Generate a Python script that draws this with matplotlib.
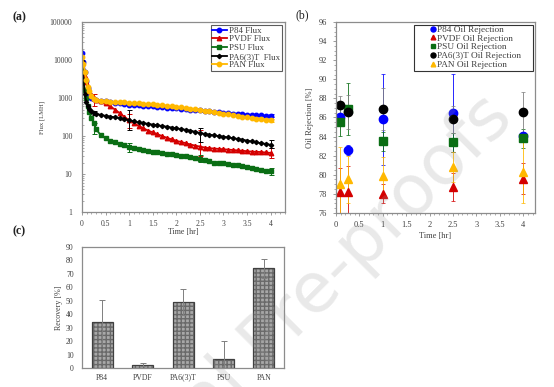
import numpy as np
import matplotlib.pyplot as plt
from matplotlib.patches import Rectangle
from matplotlib.ticker import MultipleLocator, LogLocator, NullFormatter

plt.rcParams['font.family'] = ['Liberation Serif', 'DejaVu Serif']

text_col = '#404040'
spine_col = '#8c8c8c'

c_p84 = '#0000ff'
c_pvdf = '#d40000'
c_psu = '#0a6e14'
c_pa6 = '#000000'
c_pan = '#ffb800'

# ---- (a) flux vs time ----
time_hr = [0.0, 0.03, 0.06, 0.09, 0.12, 0.15, 0.2, 0.25, 0.3, 0.4,
           0.5, 0.6, 0.7, 0.8, 0.9, 1.0, 1.1, 1.2, 1.3, 1.4,
           1.5, 1.6, 1.7, 1.8, 1.9, 2.0, 2.1, 2.2, 2.3, 2.4,
           2.5, 2.6, 2.7, 2.8, 2.9, 3.0, 3.1, 3.2, 3.3, 3.4,
           3.5, 3.6, 3.7, 3.8, 3.9, 4.0]
flux_p84 = [15000, 9000, 5000, 2800, 1800, 1300, 1000, 920, 880, 850,
            820, 790, 760, 730, 700, 670, 655, 640, 628, 615,
            600, 588, 575, 562, 548, 535, 522, 510, 498, 485,
            472, 460, 448, 436, 424, 412, 402, 392, 384, 376,
            368, 362, 356, 351, 347, 343]
flux_pvdf = [8000, 5500, 3800, 2600, 1900, 1500, 1200, 1000, 900, 820,
             720, 600, 500, 400, 320, 260, 220, 185, 160, 140,
             125, 112, 100, 90, 82, 75, 70, 65, 60, 56,
             53, 50, 48, 47, 46, 45, 44, 43, 42, 41,
             40, 39, 38.5, 38, 37, 36]
flux_psu = [5600, 3000, 1600, 1000, 620, 420, 300, 225, 150, 105,
            88, 76, 68, 62, 57, 53, 50, 46, 43, 41,
            39, 37.5, 36, 34.5, 33, 32, 30.5, 29, 28, 27,
            25.5, 24, 21.5, 20, 19.5, 19, 18, 17.5, 17, 16.5,
            15.5, 14.5, 13.5, 12.8, 12.2, 11.8]
flux_pa6 = [9300, 3000, 1300, 800, 620, 520, 450, 410, 385, 360,
            340, 325, 310, 295, 280, 262, 245, 228, 218, 210,
            200, 192, 184, 176, 168, 160, 153, 146, 138, 130,
            120, 114, 109, 104, 100, 96, 92, 88, 84, 80,
            76, 72, 68, 65, 62, 59]
flux_pan = [12000, 8000, 5000, 3000, 2000, 1500, 1150, 970, 900, 840,
            820, 800, 790, 775, 765, 750, 735, 720, 705, 695,
            680, 665, 650, 630, 610, 590, 570, 550, 530, 510,
            490, 470, 450, 430, 410, 390, 372, 356, 340, 325,
            310, 300, 289, 278, 268, 258]

err_t = [0.25, 1.0, 2.5, 4.0]
err_p84 = ([60, 60, 40, 25], [60, 60, 40, 30])
err_pvdf = ([400, 100, 24, 9], [300, 120, 90, 12])
err_psu = ([115, 15, 5, 2.5], [0, 13, 6, 2.5])
err_pa6 = ([60, 120, 50, 10], [60, 230, 45, 20])
err_pan = ([60, 60, 40, 20], [60, 60, 40, 20])

# ---- (b) oil rejection ----
rej_t = [0.083, 0.25, 1.0, 2.5, 4.0]
rej_p84 = [86.1, 82.6, 85.8, 86.5, 84.1]
rej_pvdf = [78.2, 78.2, 78.0, 78.7, 79.6]
rej_psu = [85.5, 86.9, 83.5, 83.4, 83.8]
rej_pa6 = [87.3, 86.6, 86.9, 85.8, 86.6]
rej_pan = [79.0, 79.5, 79.9, 80.8, 80.3]
rej_err_p84 = [1.0, 0.5, 4.8, 4.1, 0.3]
rej_err_pvdf = [2.5, 2.7, 1.0, 1.5, 1.6]
rej_err_psu = [1.4, 2.7, 1.0, 1.0, 1.0]
rej_err_pa6 = [1.0, 1.8, 2.2, 1.4, 2.1]
rej_err_pan = [3.9, 2.5, 2.0, 1.6, 3.3]

# ---- (c) recovery ----
membranes = ['P84', 'PVDF', 'PA6(3)T', 'PSU', 'PAN']
recovery = [34, 2.5, 49, 7, 74]
recovery_err = [16.5, 1.0, 9.5, 13, 7]


def style_axes(ax, fs=5.5):
	for s in ax.spines.values():
		s.set_color(spine_col)
		s.set_linewidth(0.9)
	ax.tick_params(labelsize=fs, colors=spine_col, labelcolor=text_col, width=0.6, length=2.5)
	ax.tick_params(which='minor', colors=spine_col, width=0.5, length=1.5)


fig = plt.figure(figsize=(5.54, 3.87), dpi=100)
ax_a = fig.add_axes([0.148, 0.452, 0.366, 0.491])
ax_b = fig.add_axes([0.6065, 0.450, 0.359, 0.493])
ax_c = fig.add_axes([0.148, 0.049, 0.365, 0.313])

# (a)
series_a = [
	(flux_p84, err_p84, c_p84, 'o', 3.2, 'P84 Flux'),
	(flux_pvdf, err_pvdf, c_pvdf, '^', 3.2, 'PVDF Flux'),
	(flux_psu, err_psu, c_psu, 's', 3.0, 'PSU Flux'),
	(flux_pa6, err_pa6, c_pa6, 'D', 2.2, 'PA6(3)T  Flux'),
	(flux_pan, err_pan, c_pan, 'o', 3.2, 'PAN Flux'),
]
for flux, err, col, mk, ms, lab in series_a:
	ax_a.plot(time_hr, flux, color=col, marker=mk, ms=ms, lw=1.3, label=lab)
	ey = [flux[time_hr.index(t)] for t in err_t]
	ax_a.errorbar(err_t, ey, yerr=err, fmt='none', ecolor=col, elinewidth=0.7, capsize=1.8, capthick=0.7)

ax_a.set_yscale('log')
ax_a.set_ylim(1, 100000)
ax_a.set_xlim(0, 4.3)
ax_a.set_yticks([1, 10, 100, 1000, 10000, 100000])
ax_a.set_yticklabels(['1', '10', '100', '1000', '10000', '100000'])
ax_a.yaxis.set_minor_locator(LogLocator(base=10, subs=np.arange(2, 10)))
ax_a.yaxis.set_minor_formatter(NullFormatter())
ax_a.set_xticks([0, 0.5, 1, 1.5, 2, 2.5, 3, 3.5, 4])
ax_a.set_xticklabels(['0', '0.5', '1', '1.5', '2', '2.5', '3', '3.5', '4'])
ax_a.xaxis.set_minor_locator(MultipleLocator(0.1))
style_axes(ax_a)
ax_a.tick_params(axis='y', which='both', direction='in')
ax_a.tick_params(axis='y', pad=7)
ax_a.set_xlabel('Time [hr]', fontsize=5.8, color=text_col, labelpad=0)
ax_a.set_ylabel('Flux [LMH]', fontsize=4.8, color=text_col, labelpad=3)
leg_a = ax_a.legend(loc='upper right', fontsize=6.4, frameon=True, fancybox=False, edgecolor='#333333',
                    handlelength=1.6, handletextpad=0.3, borderpad=0.2, labelspacing=0.05,
                    borderaxespad=0.3)
leg_a.get_frame().set_linewidth(0.8)
for t in leg_a.get_texts():
	t.set_color(text_col)

# (b)
series_b = [
	(rej_p84, rej_err_p84, c_p84, 'o', 6.0, 'P84 Oil Rejection'),
	(rej_pvdf, rej_err_pvdf, c_pvdf, '^', 5.6, 'PVDF Oil Rejection'),
	(rej_psu, rej_err_psu, c_psu, 's', 5.6, 'PSU Oil Rejection'),
	(rej_pa6, rej_err_pa6, c_pa6, 'o', 6.0, 'PA6(3)T Oil Rejection'),
	(rej_pan, rej_err_pan, c_pan, '^', 5.6, 'PAN Oil Rejection'),
]
for vals, err, col, mk, ms, lab in series_b:
	ecol = '#7f7f7f' if col == c_pa6 else col
	ax_b.errorbar(rej_t, vals, yerr=err, fmt='none', ecolor=ecol, elinewidth=0.7, capsize=1.5, capthick=0.6, alpha=0.85)
for vals, err, col, mk, ms, lab in series_b:
	ax_b.plot(rej_t, vals, ls='none', color=col, marker=mk, ms=ms, label=lab)

ax_b.set_ylim(76, 96)
ax_b.set_xlim(0, 4.25)
ax_b.set_yticks(np.arange(76, 97, 2))
ax_b.yaxis.set_minor_locator(MultipleLocator(0.5))
ax_b.set_xticks([0, 0.5, 1, 1.5, 2, 2.5, 3, 3.5, 4])
ax_b.set_xticklabels(['0', '0.5', '1', '1.5', '2', '2.5', '3', '3.5', '4'])
ax_b.xaxis.set_minor_locator(MultipleLocator(0.1))
style_axes(ax_b, fs=6)
ax_b.tick_params(axis='y', pad=4)
ax_b.set_xlabel('Time [hr]', fontsize=6, color=text_col, labelpad=2)
ax_b.set_ylabel('Oil Rejection [%]', fontsize=6, color=text_col, labelpad=3)
# legend frame drawn separately (wider than the entries, as in the source)
ax_b.add_patch(Rectangle((0.392, 0.742), 0.598, 0.242, transform=ax_b.transAxes, fill=False,
                         edgecolor='#333333', lw=0.8, zorder=5))
leg_b = ax_b.legend(loc='upper left', bbox_to_anchor=(0.462, 0.992), fontsize=6.7, frameon=False,
                    handlelength=0.6, handletextpad=0.15, borderpad=0.2, labelspacing=0.02,
                    borderaxespad=0, markerscale=0.6)
for t in leg_b.get_texts():
	t.set_color(text_col)

# (c)
xpos = np.arange(len(membranes))
ax_c.bar(xpos, recovery, width=0.52, color='#a8a8a8', edgecolor='#6a6a6a', hatch='++++', lw=0, zorder=2)
ax_c.bar(xpos, recovery, width=0.52, fill=False, edgecolor='#404040', lw=0.9, zorder=3)
ax_c.errorbar(xpos, recovery, yerr=recovery_err, fmt='none', ecolor='#7f7f7f', elinewidth=0.7,
              capsize=2, capthick=0.7, zorder=4)
ax_c.set_xlim(-0.5, 4.5)
ax_c.set_ylim(0, 90)
ax_c.set_yticks(np.arange(0, 91, 10))
ax_c.set_xticks(xpos)
ax_c.set_xticklabels(membranes)
style_axes(ax_c, fs=5.6)
ax_c.tick_params(axis='x', length=0, pad=4)
ax_c.tick_params(axis='y', length=0, pad=6)
ax_c.set_ylabel('Recovery [%]', fontsize=5.8, color=text_col, labelpad=2)

fig.text(0.022, 0.955, '(a)', fontsize=8.5, fontweight='bold', color='#222222', va='center')
fig.text(0.534, 0.96, '(b)', fontsize=8.5, color='#222222', va='center')
fig.text(0.022, 0.403, '(c)', fontsize=8.5, fontweight='bold', color='#222222', va='center')

# watermark
fig.text(0.932, 0.685, 'Journal Pre-proofs', fontsize=50, family='DejaVu Sans', color='#9a9a9a',
         alpha=0.22, rotation=45, ha='right', va='baseline', rotation_mode='anchor', zorder=10)

fig.savefig('out.png', dpi=100)
